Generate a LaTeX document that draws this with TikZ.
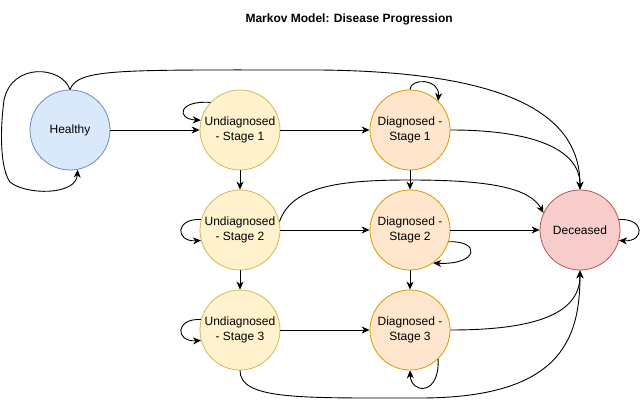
\documentclass[tikz,border=0pt]{standalone}
\usepackage{fontspec}
\setmainfont{Liberation Sans}
\usetikzlibrary{arrows.meta}
\definecolor{hfill}{HTML}{DAE8FC}\definecolor{hdraw}{HTML}{6C8EBF}
\definecolor{ufill}{HTML}{FFF2CC}\definecolor{udraw}{HTML}{D6B656}
\definecolor{dfill}{HTML}{FFE6CC}\definecolor{ddraw}{HTML}{D79B00}
\definecolor{xfill}{HTML}{F8CECC}\definecolor{xdraw}{HTML}{B85450}
\begin{document}
\begin{tikzpicture}[x=1pt,y=-1pt,
  state/.style={circle,minimum size=80pt,inner sep=0pt,line width=0.8pt,align=center,
    font=\fontsize{12}{15}\selectfont},
  healthy/.style={state,fill=hfill,draw=hdraw},
  undiag/.style={state,fill=ufill,draw=udraw},
  diag/.style={state,fill=dfill,draw=ddraw},
  dead/.style={state,fill=xfill,draw=xdraw},
  arr/.style={-{Stealth[length=8pt,width=7pt,inset=2.5pt]},line width=0.9pt,black}]
\useasboundingbox (0,0) rectangle (641,401);
\node[anchor=west,font=\bfseries\fontsize{12}{14}\selectfont] (title) at (242,19) {Markov Model: Disease Progression};
\node[healthy] (H) at (70,130) {Healthy};
\node[undiag] (U1) at (240,130) {Undiagnosed\\- Stage 1};
\node[undiag] (U2) at (240,230) {Undiagnosed\\- Stage 2};
\node[undiag] (U3) at (240,330) {Undiagnosed\\- Stage 3};
\node[diag] (D1) at (410,130) {Diagnosed -\\Stage 1};
\node[diag] (D2) at (410,230) {Diagnosed -\\Stage 2};
\node[diag] (D3) at (410,330) {Diagnosed -\\Stage 3};
\node[dead] (X) at (580,230) {Deceased};
% straight
\draw[arr] (H) -- (U1);
\draw[arr] (U1) -- (D1);
\draw[arr] (U2) -- (D2);
\draw[arr] (U3) -- (D3);
\draw[arr] (D2) -- (X);
\draw[arr] (U1) -- (U2);
\draw[arr] (U2) -- (U3);
\draw[arr] (D1) -- (D2);
\draw[arr] (D2) -- (D3);
% healthy loop
\draw[arr] (H.north) .. controls (62,66) and (12,62) .. (4,100) .. controls (0,130) and (0,168) .. (10,182) .. controls (25,195) and (76,196) .. (H.-79);
% healthy to deceased
\draw[arr] (H.north) .. controls (78,68) and (120,70) .. (320,70) .. controls (520,72) and (580,120) .. (X.north);
% D1 to deceased
\draw[arr] (D1.east) .. controls (535,130) and (580,150) .. (X.north);
% U2 to deceased
\draw[arr] (U2.12) .. controls (292,186) and (340,180) .. (410,180) .. controls (490,180) and (530,188) .. (X.155);
% D3 to deceased
\draw[arr] (D3.east) .. controls (540,330) and (580,312) .. (X.south);
% U3 to deceased
\draw[arr] (U3.south) .. controls (240,400) and (300,398) .. (420,398) .. controls (560,398) and (580,340) .. (X.south);
% self loops
\draw[arr] (U1.137) .. controls (178,100) and (176,119) .. (U1.166);
\draw[arr] (U2.165) .. controls (175,218) and (175,242) .. (U2.195);
\draw[arr] (U3.165) .. controls (175,318) and (175,342) .. (U3.195);
\draw[arr] (D1.north) .. controls (410,78) and (440,78) .. (D1.46);
\draw[arr] (D2.-17) .. controls (480,240) and (480,265) .. (D2.-55);
\draw[arr] (D3.-46) .. controls (440,396) and (411,394) .. (D3.south);
\draw[arr] (X.15) .. controls (645,218) and (645,242) .. (X.-15);
\end{tikzpicture}
\end{document}
